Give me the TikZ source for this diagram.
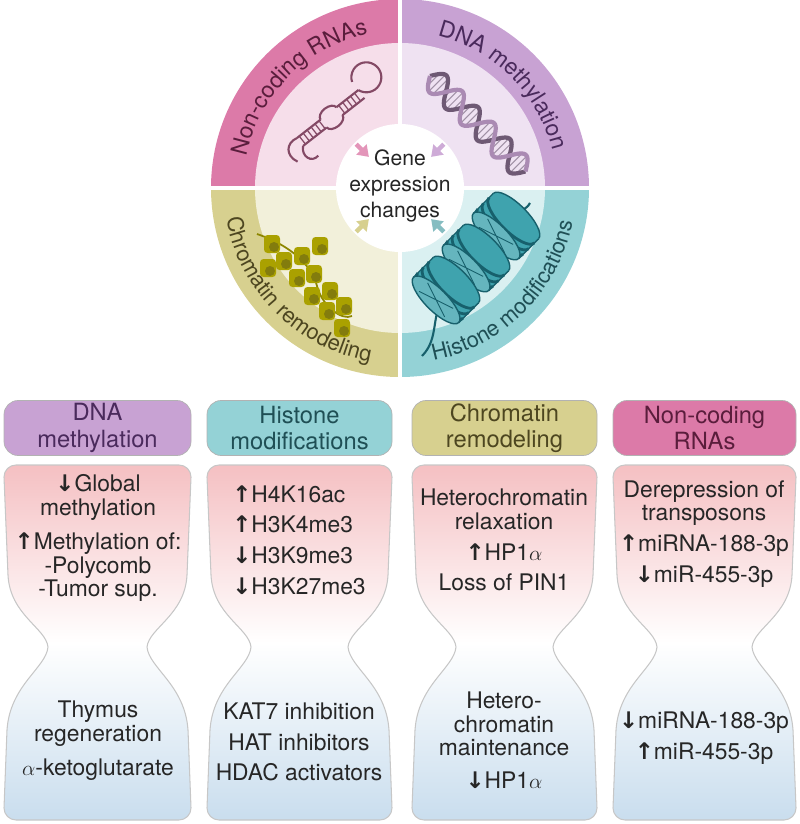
\documentclass[tikz,border=0pt]{standalone}
\usepackage{fontspec}
\setmainfont{TeX Gyre Heros}
\newfontfamily\arrowfont{DejaVu Sans}
\usetikzlibrary{arrows.meta, decorations.text}

\definecolor{ncOut}{HTML}{DC7AA8}\definecolor{ncIn}{HTML}{F6DEEA}\definecolor{ncTxt}{HTML}{5A1D3C}
\definecolor{dnOut}{HTML}{C8A2D3}\definecolor{dnIn}{HTML}{EFE2F2}\definecolor{dnTxt}{HTML}{4A2A5C}
\definecolor{crOut}{HTML}{D7D08F}\definecolor{crIn}{HTML}{F2F0DA}\definecolor{crTxt}{HTML}{4D4620}
\definecolor{hiOut}{HTML}{94D2D6}\definecolor{hiIn}{HTML}{DAF0F1}\definecolor{hiTxt}{HTML}{1F4F55}
\definecolor{hgTop}{HTML}{F2B0B3}\definecolor{hgBot}{HTML}{B7D2E8}
\definecolor{nucFill}{HTML}{3FA3AE}\definecolor{nucDark}{HTML}{17606C}
\pgfdeclareverticalshading{hourglass}{100bp}{color(0bp)=(hgBot); color(25bp)=(hgBot!75!white); color(50bp)=(white); color(75bp)=(hgTop!80!white); color(100bp)=(hgTop)}

\newcommand{\upa}{{\arrowfont\bfseries ↑}}
\newcommand{\dna}{{\arrowfont\bfseries ↓}}

\begin{document}
\begin{tikzpicture}[
        x = 0.02cm, y = -0.02cm, % pixel grid
        >= {Triangle[length=6pt, width=8pt]},
        hdr/.style = {rounded corners=8pt, draw=black!30, minimum height=1.1cm,
            align=center, inner sep=0pt, font=\fontsize{13.5}{15}\selectfont},
        body/.style = {align=center, inner sep=0pt, font=\fontsize{13}{13.5}\selectfont, text=black!85},
        inarrow/.style = {->, line width=2.6pt, shorten >=0pt}
    ]

    \useasboundingbox (0,0) rectangle (799,824);

    % ---- circle of mechanisms ----
    \begin{scope}[shift={(400,188)}, x=0.02cm, y=0.02cm]
        \fill[ncOut] (0,0) -- (180:189) arc (180:90:189) -- cycle;
        \fill[dnOut] (0,0) -- (90:189) arc (90:0:189) -- cycle;
        \fill[crOut] (0,0) -- (180:189) arc (180:270:189) -- cycle;
        \fill[hiOut] (0,0) -- (270:189) arc (270:360:189) -- cycle;
        \fill[ncIn] (0,0) -- (180:145) arc (180:90:145) -- cycle;
        \fill[dnIn] (0,0) -- (90:145) arc (90:0:145) -- cycle;
        \fill[crIn] (0,0) -- (180:145) arc (180:270:145) -- cycle;
        \fill[hiIn] (0,0) -- (270:145) arc (270:360:145) -- cycle;
        \draw[white, line width=2pt] (-190,0) -- (190,0) (0,-190) -- (0,190);

        % ring labels
        \path[decorate, decoration={text along path, text align=center,
            text={|\fontsize{13}{13}\selectfont\color{ncTxt}|Non-coding RNAs}}]
            (176:157) arc (176:94:157);
        \path[decorate, decoration={text along path, text align=center,
            text={|\fontsize{13}{13}\selectfont\color{dnTxt}|DNA methylation}}]
            (86:157) arc (86:4:157);
        \path[decorate, decoration={text along path, text align=center,
            text={|\fontsize{12.5}{13}\selectfont\color{crTxt}|Chromatin remodeling}}]
            (181:176) arc (181:269:176);
        \path[decorate, decoration={text along path, text align=center,
            text={|\fontsize{12.5}{13}\selectfont\color{hiTxt}|Histone modifications}}]
            (271:176) arc (271:359:176);

        % RNA hairpin
        \begin{scope}[shift={(-100,46)}, rotate=38, draw=ncOut!60!black, line width=1.2pt]
            \draw (0,5) -- (30,5) (0,-5) -- (30,-5) (50,5) -- (78,5) (50,-5) -- (78,-5);
            \foreach \k in {3,8,...,28} \draw[line width=0.7pt] (\k,5) -- (\k,-5);
            \foreach \k in {53,58,...,76} \draw[line width=0.7pt] (\k,5) -- (\k,-5);
            \draw (30,5) arc (180:0:10 and 6) (30,-5) arc (-180:0:10 and 6);
            \draw (78,5) arc (-160:160:15);
            \draw (0,5) .. controls (-12,8) and (-20,-2) .. (-14,-14);
            \draw (0,-5) .. controls (-8,-12) and (-4,-24) .. (6,-22);
        \end{scope}

        % DNA helix
        \begin{scope}[shift={(30,112)}, rotate=-45]
            \foreach \k in {5,10,...,130}
                \draw[dnOut!60!black!70, line width=0.6pt] (\k,{12*sin(\k*8)}) -- (\k,{-12*sin(\k*8)});
            \draw[dnOut!55!black, line width=2.4pt, domain=0:135, samples=90]
                plot (\x,{12*sin(\x*8)});
            \draw[dnOut!85!black, line width=2.4pt, domain=0:135, samples=90]
                plot (\x,{-12*sin(\x*8)});
        \end{scope}

        % chromatin fibre
        \begin{scope}[shift={(-28,-18)}]
            \draw[olive, line width=1pt] (-115,-28) .. controls (-80,-40) and (-60,-60) .. (-55,-80)
                .. controls (-50,-100) and (-30,-115) .. (-20,-110);
            \foreach \px/\py in {-100/-38, -88/-55, -70/-50, -75/-72, -58/-68, -60/-90,
                                 -42/-85, -45/-105, -28/-100, -30/-122, -104/-62, -52/-40}
            {
                \fill[rounded corners=2pt, fill=olive!75!yellow] (\px-8,\py-9) rectangle (\px+8,\py+9);
                \fill[olive!90!black] (\px+2,\py-3) circle (5);
            }
        \end{scope}

        % nucleosomes
        \draw[nucDark, line width=1.2pt] (22,-168) .. controls (40,-150) and (30,-125) .. (45,-110)
            (105,-30) .. controls (115,-20) and (125,-25) .. (130,-15);
        \foreach \cx/\cy in {106/-38, 76/-70, 46/-102}
        {
            \begin{scope}[shift={(\cx,\cy)}, rotate=45]
                \fill[nucFill, draw=nucDark, line width=0.8pt] (14,0) ellipse (11 and 32);
                \fill[nucFill] (-14,-32) rectangle (14,32);
                \draw[nucDark, line width=0.8pt] (-14,-32) -- (14,-32) (-14,32) -- (14,32);
                \foreach \r in {8,0,-8}
                    \draw[nucDark, line width=1.6pt] (\r,32) arc (90:270:11 and 32);
                \fill[nucFill!80!white, draw=nucDark, line width=0.8pt] (-14,0) ellipse (11 and 32);
                \draw[nucDark, line width=0.5pt] (-20,-18) -- (-8,18) (-20,18) -- (-8,-18);
            \end{scope}
        }

        % centre
        \fill[white] (0,0) circle (64);
        \node[align=center, font=\fontsize{12}{15}\selectfont, text=black!85] (gene) at (0,2)
            {Gene\\expression\\changes};
        \coordinate (ncA) at (135:62); \coordinate (ncB) at (135:44);
        \coordinate (dnA) at (45:62);  \coordinate (dnB) at (45:44);
        \coordinate (crA) at (225:62); \coordinate (crB) at (225:44);
        \coordinate (hiA) at (315:62); \coordinate (hiB) at (315:44);
        \draw[inarrow, ncOut!80!white] (ncA) -- (ncB);
        \draw[inarrow, dnOut!90!white] (dnA) -- (dnB);
        \draw[inarrow, crOut] (crA) -- (crB);
        \draw[inarrow, hiOut!90!black] (hiA) -- (hiB);
    \end{scope}

    % ---- hourglass panels ----
    \foreach \xa/\xb/\fc/\tc/\name/\txt in {
            4/191/dnOut/dnTxt/hdrDNA/{DNA\\methylation},
            207/392/hiOut/hiTxt/hdrHis/{Histone\\modifications},
            412/597/crOut/crTxt/hdrChr/{Chromatin\\remodeling},
            613/796/ncOut/ncTxt/hdrNC/{Non-coding\\RNAs}}
    {
        \node[hdr, fill=\fc, text=\tc, minimum width={(\xb-\xa)*0.02cm}] (\name)
            at ({(\xa+\xb)/2}, 428) {\txt};
        \path[shading=hourglass, draw=black!22, line width=0.6pt]
            ({\xa+12},465) -- ({\xb-12},465) to[out=0, in=90] (\xb,477)
            -- ({\xb-4},575) .. controls ({\xb-6},615) and ({\xb-42},628) .. ({\xb-44},647)
            .. controls ({\xb-42},668) and ({\xb-6},685) .. ({\xb-3},730)
            -- (\xb,808) to[out=-90, in=0] ({\xb-12},820) -- ({\xa+12},820)
            to[out=180, in=-90] (\xa,808) -- ({\xa+3},730)
            .. controls ({\xa+6},685) and ({\xa+42},668) .. ({\xa+44},647)
            .. controls ({\xa+42},628) and ({\xa+6},615) .. ({\xa+4},575)
            -- (\xa,477) to[out=90, in=180] cycle;
    }

    % DNA methylation
    \node[body] (dnUp) at (98,538) {\dna Global\\methylation\\[6pt]\upa Methylation of:\\-Polycomb\\-Tumor sup.};
    \node[body] (dnDn) at (98,741) {Thymus\\regeneration\\[6pt]$\alpha$-ketoglutarate};
    % Histone modifications
    \node[body, align=left] (hiUp) at (299,540) {\upa H4K16ac\\[4pt]\upa H3K4me3\\[4pt]\dna H3K9me3\\[4pt]\dna H3K27me3};
    \node[body] (hiDn) at (299,742) {KAT7 inhibition\\[4pt]HAT inhibitors\\[4pt]HDAC activators};
    % Chromatin remodeling
    \node[body] (crUp) at (504,540) {Heterochromatin\\relaxation\\[4pt]\upa HP1$\alpha$\\[4pt]Loss of PIN1};
    \node[body] (crDn) at (504,740) {Hetero-\\chromatin\\maintenance\\[5pt]\dna HP1$\alpha$};
    % Non-coding RNAs
    \node[body] (ncUp) at (704,534) {Derepression of\\transposons\\[4pt]\upa miRNA-188-3p\\[4pt]\dna miR-455-3p};
    \node[body] (ncDn) at (704,738) {\dna miRNA-188-3p\\[4pt]\upa miR-455-3p};

\end{tikzpicture}
\end{document}
